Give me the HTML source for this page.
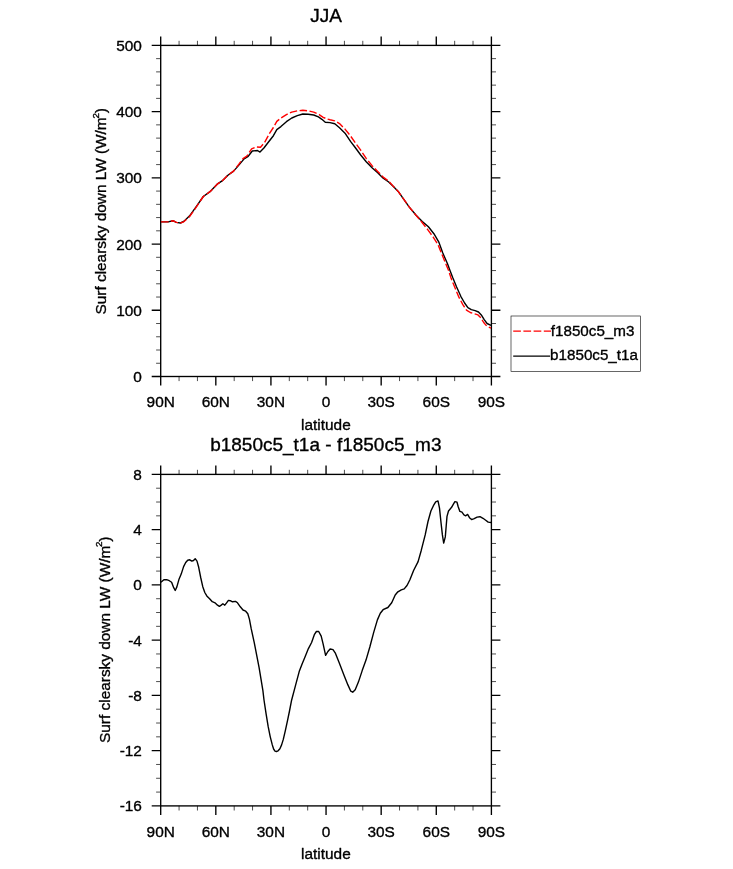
<!DOCTYPE html>
<html><head><meta charset="utf-8"><title>JJA</title>
<style>
html,body{margin:0;padding:0;background:#fff;}
svg{display:block;font-family:"Liberation Sans",sans-serif;fill:#000;}
text{stroke:#000;stroke-width:0.35px;stroke-linejoin:round;}
</style></head><body>
<svg width="733" height="869" viewBox="0 0 733 869">
<rect width="733" height="869" fill="#fff"/>
<rect x="160.7" y="45.4" width="330.7" height="331.1" fill="none" stroke="#000" stroke-width="1.35"/>
<path d="M160.70,45.4 v-9.0 M160.70,376.5 v9.0" stroke="#000" stroke-width="1.35" fill="none"/>
<path d="M179.07,45.4 v-4.6 M179.07,376.5 v4.6" stroke="#000" stroke-width="0.7" fill="none"/>
<path d="M197.44,45.4 v-4.6 M197.44,376.5 v4.6" stroke="#000" stroke-width="0.7" fill="none"/>
<path d="M215.82,45.4 v-9.0 M215.82,376.5 v9.0" stroke="#000" stroke-width="1.35" fill="none"/>
<path d="M234.19,45.4 v-4.6 M234.19,376.5 v4.6" stroke="#000" stroke-width="0.7" fill="none"/>
<path d="M252.56,45.4 v-4.6 M252.56,376.5 v4.6" stroke="#000" stroke-width="0.7" fill="none"/>
<path d="M270.93,45.4 v-9.0 M270.93,376.5 v9.0" stroke="#000" stroke-width="1.35" fill="none"/>
<path d="M289.31,45.4 v-4.6 M289.31,376.5 v4.6" stroke="#000" stroke-width="0.7" fill="none"/>
<path d="M307.68,45.4 v-4.6 M307.68,376.5 v4.6" stroke="#000" stroke-width="0.7" fill="none"/>
<path d="M326.05,45.4 v-9.0 M326.05,376.5 v9.0" stroke="#000" stroke-width="1.35" fill="none"/>
<path d="M344.42,45.4 v-4.6 M344.42,376.5 v4.6" stroke="#000" stroke-width="0.7" fill="none"/>
<path d="M362.79,45.4 v-4.6 M362.79,376.5 v4.6" stroke="#000" stroke-width="0.7" fill="none"/>
<path d="M381.17,45.4 v-9.0 M381.17,376.5 v9.0" stroke="#000" stroke-width="1.35" fill="none"/>
<path d="M399.54,45.4 v-4.6 M399.54,376.5 v4.6" stroke="#000" stroke-width="0.7" fill="none"/>
<path d="M417.91,45.4 v-4.6 M417.91,376.5 v4.6" stroke="#000" stroke-width="0.7" fill="none"/>
<path d="M436.28,45.4 v-9.0 M436.28,376.5 v9.0" stroke="#000" stroke-width="1.35" fill="none"/>
<path d="M454.66,45.4 v-4.6 M454.66,376.5 v4.6" stroke="#000" stroke-width="0.7" fill="none"/>
<path d="M473.03,45.4 v-4.6 M473.03,376.5 v4.6" stroke="#000" stroke-width="0.7" fill="none"/>
<path d="M491.40,45.4 v-9.0 M491.40,376.5 v9.0" stroke="#000" stroke-width="1.35" fill="none"/>
<path d="M160.7,45.40 h-9.0 M491.4,45.40 h9.0" stroke="#000" stroke-width="1.35" fill="none"/>
<path d="M160.7,111.62 h-9.0 M491.4,111.62 h9.0" stroke="#000" stroke-width="1.35" fill="none"/>
<path d="M160.7,177.84 h-9.0 M491.4,177.84 h9.0" stroke="#000" stroke-width="1.35" fill="none"/>
<path d="M160.7,244.06 h-9.0 M491.4,244.06 h9.0" stroke="#000" stroke-width="1.35" fill="none"/>
<path d="M160.7,310.28 h-9.0 M491.4,310.28 h9.0" stroke="#000" stroke-width="1.35" fill="none"/>
<path d="M160.7,376.50 h-9.0 M491.4,376.50 h9.0" stroke="#000" stroke-width="1.35" fill="none"/>
<path d="M160.7,58.64 h-4.6 M491.4,58.64 h4.6" stroke="#000" stroke-width="0.7" fill="none"/>
<path d="M160.7,71.89 h-4.6 M491.4,71.89 h4.6" stroke="#000" stroke-width="0.7" fill="none"/>
<path d="M160.7,85.13 h-4.6 M491.4,85.13 h4.6" stroke="#000" stroke-width="0.7" fill="none"/>
<path d="M160.7,98.38 h-4.6 M491.4,98.38 h4.6" stroke="#000" stroke-width="0.7" fill="none"/>
<path d="M160.7,124.86 h-4.6 M491.4,124.86 h4.6" stroke="#000" stroke-width="0.7" fill="none"/>
<path d="M160.7,138.11 h-4.6 M491.4,138.11 h4.6" stroke="#000" stroke-width="0.7" fill="none"/>
<path d="M160.7,151.35 h-4.6 M491.4,151.35 h4.6" stroke="#000" stroke-width="0.7" fill="none"/>
<path d="M160.7,164.60 h-4.6 M491.4,164.60 h4.6" stroke="#000" stroke-width="0.7" fill="none"/>
<path d="M160.7,191.08 h-4.6 M491.4,191.08 h4.6" stroke="#000" stroke-width="0.7" fill="none"/>
<path d="M160.7,204.33 h-4.6 M491.4,204.33 h4.6" stroke="#000" stroke-width="0.7" fill="none"/>
<path d="M160.7,217.57 h-4.6 M491.4,217.57 h4.6" stroke="#000" stroke-width="0.7" fill="none"/>
<path d="M160.7,230.82 h-4.6 M491.4,230.82 h4.6" stroke="#000" stroke-width="0.7" fill="none"/>
<path d="M160.7,257.30 h-4.6 M491.4,257.30 h4.6" stroke="#000" stroke-width="0.7" fill="none"/>
<path d="M160.7,270.55 h-4.6 M491.4,270.55 h4.6" stroke="#000" stroke-width="0.7" fill="none"/>
<path d="M160.7,283.79 h-4.6 M491.4,283.79 h4.6" stroke="#000" stroke-width="0.7" fill="none"/>
<path d="M160.7,297.04 h-4.6 M491.4,297.04 h4.6" stroke="#000" stroke-width="0.7" fill="none"/>
<path d="M160.7,323.52 h-4.6 M491.4,323.52 h4.6" stroke="#000" stroke-width="0.7" fill="none"/>
<path d="M160.7,336.77 h-4.6 M491.4,336.77 h4.6" stroke="#000" stroke-width="0.7" fill="none"/>
<path d="M160.7,350.01 h-4.6 M491.4,350.01 h4.6" stroke="#000" stroke-width="0.7" fill="none"/>
<path d="M160.7,363.26 h-4.6 M491.4,363.26 h4.6" stroke="#000" stroke-width="0.7" fill="none"/>
<path d="M161.0,221.9 L168.1,221.9 L173.0,220.7 L176.3,222.4 L180.4,223.0 L183.7,221.4 L189.4,216.1 L195.9,207.1 L203.3,196.5 L210.7,191.1 L217.2,184.2 L222.1,180.9 L227.9,175.2 L233.6,171.1 L239.3,164.6 L244.1,158.9 L248.2,156.3 L252.3,151.0 L257.5,150.5 L260.0,152.1 L263.9,148.0 L268.7,141.8 L273.4,135.7 L276.8,129.6 L280.9,126.6 L286.4,121.7 L291.8,118.0 L297.3,115.6 L302.8,114.0 L308.2,114.3 L313.7,115.0 L318.4,116.9 L321.9,119.3 L325.3,122.3 L330.0,122.6 L334.8,123.8 L339.5,127.7 L345.0,133.2 L350.5,141.4 L355.2,147.5 L360.7,155.0 L366.2,161.8 L372.3,168.0 L377.7,172.8 L383.2,178.2 L388.7,182.0 L393.4,186.4 L398.2,191.4 L403.1,198.4 L409.3,207.1 L416.1,215.2 L422.3,221.4 L428.4,226.8 L433.9,233.7 L438.7,241.8 L442.7,252.8 L447.5,263.7 L449.8,270.0 L452.7,277.6 L456.5,286.7 L460.8,296.3 L464.6,303.0 L467.9,307.7 L471.3,309.6 L475.1,310.6 L478.5,312.0 L481.3,314.9 L484.2,319.7 L487.1,323.5 L491.0,325.4" fill="none" stroke="#000" stroke-width="1.4" stroke-linejoin="round"/>
<path d="M161.0,221.9 L168.1,221.9 L173.0,220.7 L176.3,222.4 L180.4,223.0 L183.7,221.8 L189.4,216.8 L195.9,207.6 L203.3,196.5 L210.7,191.1 L217.2,184.2 L222.1,180.9 L227.9,175.2 L233.6,171.1 L239.3,163.6 L243.0,158.6 L246.8,156.2 L251.6,148.9 L256.4,146.9 L260.5,147.3 L264.6,142.5 L269.3,133.7 L273.4,127.5 L276.8,121.4 L280.9,118.0 L286.4,114.6 L291.8,112.1 L297.3,110.9 L302.8,110.2 L308.2,110.9 L313.7,112.1 L319.1,114.6 L323.2,117.3 L327.3,119.1 L330.0,119.8 L334.8,120.9 L339.5,123.6 L345.0,129.1 L350.5,135.9 L355.2,142.7 L360.7,150.2 L366.2,158.4 L372.3,165.9 L377.7,171.4 L383.2,177.1 L388.7,181.2 L393.4,186.4 L398.2,191.4 L403.1,198.4 L409.3,207.1 L416.1,215.4 L422.3,222.7 L427.7,229.6 L433.2,237.1 L438.0,244.6 L442.1,254.8 L446.6,265.7 L448.4,270.0 L451.2,278.6 L455.1,288.1 L458.9,297.2 L462.7,304.4 L466.5,310.1 L470.3,312.5 L474.2,313.7 L478.0,314.9 L480.8,317.8 L483.7,322.5 L486.6,325.9 L491.0,328.1" fill="none" stroke="#f00" stroke-width="1.4" stroke-dasharray="7.5 2.5" stroke-linejoin="round"/>
<rect x="160.7" y="474.4" width="330.7" height="331.5" fill="none" stroke="#000" stroke-width="1.35"/>
<path d="M160.70,474.4 v-9.0 M160.70,805.9 v9.0" stroke="#000" stroke-width="1.35" fill="none"/>
<path d="M179.07,474.4 v-4.6 M179.07,805.9 v4.6" stroke="#000" stroke-width="0.7" fill="none"/>
<path d="M197.44,474.4 v-4.6 M197.44,805.9 v4.6" stroke="#000" stroke-width="0.7" fill="none"/>
<path d="M215.82,474.4 v-9.0 M215.82,805.9 v9.0" stroke="#000" stroke-width="1.35" fill="none"/>
<path d="M234.19,474.4 v-4.6 M234.19,805.9 v4.6" stroke="#000" stroke-width="0.7" fill="none"/>
<path d="M252.56,474.4 v-4.6 M252.56,805.9 v4.6" stroke="#000" stroke-width="0.7" fill="none"/>
<path d="M270.93,474.4 v-9.0 M270.93,805.9 v9.0" stroke="#000" stroke-width="1.35" fill="none"/>
<path d="M289.31,474.4 v-4.6 M289.31,805.9 v4.6" stroke="#000" stroke-width="0.7" fill="none"/>
<path d="M307.68,474.4 v-4.6 M307.68,805.9 v4.6" stroke="#000" stroke-width="0.7" fill="none"/>
<path d="M326.05,474.4 v-9.0 M326.05,805.9 v9.0" stroke="#000" stroke-width="1.35" fill="none"/>
<path d="M344.42,474.4 v-4.6 M344.42,805.9 v4.6" stroke="#000" stroke-width="0.7" fill="none"/>
<path d="M362.79,474.4 v-4.6 M362.79,805.9 v4.6" stroke="#000" stroke-width="0.7" fill="none"/>
<path d="M381.17,474.4 v-9.0 M381.17,805.9 v9.0" stroke="#000" stroke-width="1.35" fill="none"/>
<path d="M399.54,474.4 v-4.6 M399.54,805.9 v4.6" stroke="#000" stroke-width="0.7" fill="none"/>
<path d="M417.91,474.4 v-4.6 M417.91,805.9 v4.6" stroke="#000" stroke-width="0.7" fill="none"/>
<path d="M436.28,474.4 v-9.0 M436.28,805.9 v9.0" stroke="#000" stroke-width="1.35" fill="none"/>
<path d="M454.66,474.4 v-4.6 M454.66,805.9 v4.6" stroke="#000" stroke-width="0.7" fill="none"/>
<path d="M473.03,474.4 v-4.6 M473.03,805.9 v4.6" stroke="#000" stroke-width="0.7" fill="none"/>
<path d="M491.40,474.4 v-9.0 M491.40,805.9 v9.0" stroke="#000" stroke-width="1.35" fill="none"/>
<path d="M160.7,474.40 h-9.0 M491.4,474.40 h9.0" stroke="#000" stroke-width="1.35" fill="none"/>
<path d="M160.7,529.65 h-9.0 M491.4,529.65 h9.0" stroke="#000" stroke-width="1.35" fill="none"/>
<path d="M160.7,584.90 h-9.0 M491.4,584.90 h9.0" stroke="#000" stroke-width="1.35" fill="none"/>
<path d="M160.7,640.15 h-9.0 M491.4,640.15 h9.0" stroke="#000" stroke-width="1.35" fill="none"/>
<path d="M160.7,695.40 h-9.0 M491.4,695.40 h9.0" stroke="#000" stroke-width="1.35" fill="none"/>
<path d="M160.7,750.65 h-9.0 M491.4,750.65 h9.0" stroke="#000" stroke-width="1.35" fill="none"/>
<path d="M160.7,805.90 h-9.0 M491.4,805.90 h9.0" stroke="#000" stroke-width="1.35" fill="none"/>
<path d="M160.7,488.21 h-4.6 M491.4,488.21 h4.6" stroke="#000" stroke-width="0.7" fill="none"/>
<path d="M160.7,502.02 h-4.6 M491.4,502.02 h4.6" stroke="#000" stroke-width="0.7" fill="none"/>
<path d="M160.7,515.84 h-4.6 M491.4,515.84 h4.6" stroke="#000" stroke-width="0.7" fill="none"/>
<path d="M160.7,543.46 h-4.6 M491.4,543.46 h4.6" stroke="#000" stroke-width="0.7" fill="none"/>
<path d="M160.7,557.27 h-4.6 M491.4,557.27 h4.6" stroke="#000" stroke-width="0.7" fill="none"/>
<path d="M160.7,571.09 h-4.6 M491.4,571.09 h4.6" stroke="#000" stroke-width="0.7" fill="none"/>
<path d="M160.7,598.71 h-4.6 M491.4,598.71 h4.6" stroke="#000" stroke-width="0.7" fill="none"/>
<path d="M160.7,612.52 h-4.6 M491.4,612.52 h4.6" stroke="#000" stroke-width="0.7" fill="none"/>
<path d="M160.7,626.34 h-4.6 M491.4,626.34 h4.6" stroke="#000" stroke-width="0.7" fill="none"/>
<path d="M160.7,653.96 h-4.6 M491.4,653.96 h4.6" stroke="#000" stroke-width="0.7" fill="none"/>
<path d="M160.7,667.77 h-4.6 M491.4,667.77 h4.6" stroke="#000" stroke-width="0.7" fill="none"/>
<path d="M160.7,681.59 h-4.6 M491.4,681.59 h4.6" stroke="#000" stroke-width="0.7" fill="none"/>
<path d="M160.7,709.21 h-4.6 M491.4,709.21 h4.6" stroke="#000" stroke-width="0.7" fill="none"/>
<path d="M160.7,723.02 h-4.6 M491.4,723.02 h4.6" stroke="#000" stroke-width="0.7" fill="none"/>
<path d="M160.7,736.84 h-4.6 M491.4,736.84 h4.6" stroke="#000" stroke-width="0.7" fill="none"/>
<path d="M160.7,764.46 h-4.6 M491.4,764.46 h4.6" stroke="#000" stroke-width="0.7" fill="none"/>
<path d="M160.7,778.27 h-4.6 M491.4,778.27 h4.6" stroke="#000" stroke-width="0.7" fill="none"/>
<path d="M160.7,792.09 h-4.6 M491.4,792.09 h4.6" stroke="#000" stroke-width="0.7" fill="none"/>
<path d="M160.9,582.3 L163.9,579.8 L166.6,579.6 L169.3,580.7 L171.6,582.3 L173.7,587.7 L175.2,590.5 L176.8,587.1 L178.9,579.6 L181.2,574.1 L183.6,566.6 L185.7,562.5 L187.7,560.2 L189.8,559.8 L191.8,561.1 L193.5,560.5 L195.2,558.7 L197.0,561.1 L198.7,567.3 L200.7,577.5 L202.7,586.4 L204.8,592.5 L206.8,595.9 L209.6,598.7 L212.3,601.7 L215.0,602.8 L217.5,605.2 L219.4,606.4 L221.2,605.1 L222.9,603.8 L224.8,605.2 L226.6,602.8 L228.4,600.4 L230.3,600.7 L232.5,601.8 L235.5,601.4 L237.5,602.8 L240.3,606.8 L243.0,610.0 L245.7,611.2 L247.8,613.7 L249.4,619.1 L251.2,628.7 L254.3,642.9 L259.1,667.7 L262.9,690.7 L264.0,700.0 L266.1,713.8 L268.1,726.2 L270.2,736.6 L272.3,744.9 L273.6,749.0 L275.0,751.1 L276.4,751.5 L278.1,750.8 L279.9,748.7 L281.6,744.9 L283.3,739.4 L285.4,730.4 L287.5,720.7 L289.5,711.0 L291.6,700.2 L295.4,685.9 L299.2,671.6 L302.1,663.9 L304.9,657.2 L308.4,648.6 L311.6,642.5 L314.5,634.3 L316.4,631.5 L318.7,631.5 L321.2,636.2 L323.1,643.9 L325.6,655.3 L327.9,651.5 L330.1,649.0 L333.0,649.6 L335.5,653.4 L339.3,663.0 L344.1,675.4 L347.9,684.9 L350.8,691.2 L352.7,692.2 L355.2,689.7 L358.4,682.1 L362.2,670.6 L366.0,660.1 L369.9,646.7 L373.7,632.4 L377.4,619.9 L380.3,613.2 L383.1,609.7 L387.9,607.5 L391.7,602.7 L395.2,595.0 L397.9,591.8 L401.3,589.9 L404.2,588.9 L407.0,585.5 L409.9,579.8 L413.7,570.2 L418.1,561.6 L421.3,550.2 L425.2,534.9 L428.0,521.5 L430.9,511.0 L433.4,505.7 L435.7,501.8 L438.0,500.9 L439.5,508.1 L441.0,522.5 L442.4,534.9 L443.7,543.1 L445.3,536.9 L446.2,526.0 L447.0,516.4 L448.5,511.0 L451.6,507.3 L453.4,504.2 L454.9,501.6 L457.0,502.2 L458.2,506.8 L459.9,511.4 L462.0,512.2 L463.9,514.8 L465.8,515.8 L467.6,514.4 L469.5,517.7 L471.6,519.6 L474.2,518.6 L477.1,517.1 L480.0,516.7 L483.0,518.3 L485.7,520.2 L488.2,522.1 L491.0,522.5" fill="none" stroke="#000" stroke-width="1.4" stroke-linejoin="round"/>
<rect x="511" y="316" width="129.5" height="55.5" fill="#fff" stroke="#000" stroke-width="0.6"/>
<path d="M513.2,331.1 H551" stroke="#f00" stroke-width="1.4" stroke-dasharray="7.7 2.5" fill="none"/>
<path d="M513.2,356.1 H550.1" stroke="#000" stroke-width="1.4" fill="none"/>
<text x="141.9" y="50.9" text-anchor="end" font-size="15.4" >500</text>
<text x="141.9" y="117.12" text-anchor="end" font-size="15.4" >400</text>
<text x="141.9" y="183.34" text-anchor="end" font-size="15.4" >300</text>
<text x="141.9" y="249.56000000000003" text-anchor="end" font-size="15.4" >200</text>
<text x="141.9" y="315.78" text-anchor="end" font-size="15.4" >100</text>
<text x="141.9" y="382.0" text-anchor="end" font-size="15.4" >0</text>
<text x="141.9" y="479.9" text-anchor="end" font-size="15.4" >8</text>
<text x="141.9" y="535.15" text-anchor="end" font-size="15.4" >4</text>
<text x="141.9" y="590.4" text-anchor="end" font-size="15.4" >0</text>
<text x="141.9" y="645.65" text-anchor="end" font-size="15.4" >-4</text>
<text x="141.9" y="700.9" text-anchor="end" font-size="15.4" >-8</text>
<text x="141.9" y="756.15" text-anchor="end" font-size="15.4" >-12</text>
<text x="141.9" y="811.4" text-anchor="end" font-size="15.4" >-16</text>
<text x="160.7" y="407.4" text-anchor="middle" font-size="15.4" >90N</text>
<text x="160.7" y="836.6" text-anchor="middle" font-size="15.4" >90N</text>
<text x="215.8" y="407.4" text-anchor="middle" font-size="15.4" >60N</text>
<text x="215.8" y="836.6" text-anchor="middle" font-size="15.4" >60N</text>
<text x="270.9" y="407.4" text-anchor="middle" font-size="15.4" >30N</text>
<text x="270.9" y="836.6" text-anchor="middle" font-size="15.4" >30N</text>
<text x="326.0" y="407.4" text-anchor="middle" font-size="15.4" >0</text>
<text x="326.0" y="836.6" text-anchor="middle" font-size="15.4" >0</text>
<text x="381.2" y="407.4" text-anchor="middle" font-size="15.4" >30S</text>
<text x="381.2" y="836.6" text-anchor="middle" font-size="15.4" >30S</text>
<text x="436.3" y="407.4" text-anchor="middle" font-size="15.4" >60S</text>
<text x="436.3" y="836.6" text-anchor="middle" font-size="15.4" >60S</text>
<text x="491.4" y="407.4" text-anchor="middle" font-size="15.4" >90S</text>
<text x="491.4" y="836.6" text-anchor="middle" font-size="15.4" >90S</text>
<text x="325.9" y="429.6" text-anchor="middle" font-size="15.4" >latitude</text>
<text x="325.9" y="858.6" text-anchor="middle" font-size="15.4" >latitude</text>
<text x="326" y="22.4" text-anchor="middle" font-size="19" >JJA</text>
<text x="325.8" y="450.7" text-anchor="middle" font-size="19" >b1850c5_t1a - f1850c5_m3</text>
<text transform="translate(106.1,211.4) rotate(-90)" text-anchor="middle" font-size="15.4">Surf clearsky down LW (W/m<tspan font-size="9.8" dy="-7.3" dx="-1.15">2</tspan><tspan dy="7.3" dx="-0.35">)</tspan></text>
<text transform="translate(109.6,639.8) rotate(-90)" text-anchor="middle" font-size="15.4">Surf clearsky down LW (W/m<tspan font-size="9.8" dy="-7.3" dx="-1.15">2</tspan><tspan dy="7.3" dx="-0.35">)</tspan></text>
<text x="550.8" y="335.5" text-anchor="start" font-size="15.2" >f1850c5_m3</text>
<text x="550.1" y="360.0" text-anchor="start" font-size="15.2" >b1850c5_t1a</text>
</svg>
</body></html>
